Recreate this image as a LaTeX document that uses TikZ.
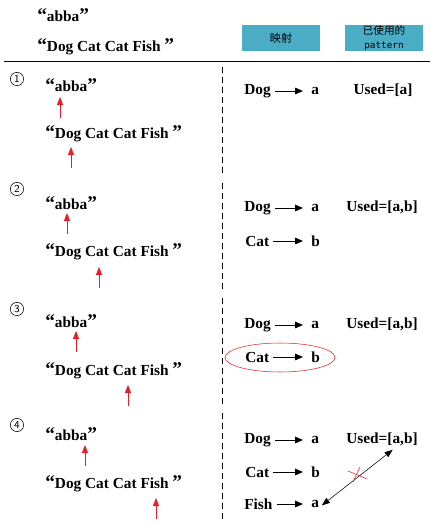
\documentclass[tikz,border=0pt]{standalone}
\usepackage{fontspec}
\setmainfont{Liberation Serif}
\newfontfamily\cjk{Noto Sans CJK SC}
\newfontfamily\codefont{DejaVu Sans Mono}
\usetikzlibrary{arrows.meta}
\definecolor{hdrblue}{RGB}{75,172,198}
\definecolor{markred}{RGB}{230,30,40}
\newcommand\quoted[1]{{\fontsize{14.5}{14}\selectfont“}#1{\fontsize{14.5}{14}\selectfont”}}

\begin{document}
\begin{tikzpicture}[x=0.75pt,y=-0.75pt,
	word/.style={font=\bfseries\fontsize{11.5}{13}\selectfont, inner sep=0pt, anchor=west},
	num/.style={circle, draw, thin, minimum size=10pt, inner sep=0pt, font=\sffamily\fontsize{8}{8}\selectfont},
	hdr/.style={fill=hdrblue, minimum width=58.5pt, minimum height=19.5pt, inner sep=0pt, align=center},
	ptr/.style={draw=markred, semithick, -{Triangle[width=4.5pt,length=6pt]}},
	map/.style={semithick, -{Triangle[width=5pt,length=6pt]}, shorten <=3pt, shorten >=6pt},
	sep/.style={dash pattern=on 4.5pt off 3pt}]
\useasboundingbox (0,0) rectangle (431,525);

%header
	\node[word] (hpat) at (37,15) {\quoted{abba}};
	\node[word] (hstr) at (37,47) {\quoted{Dog Cat Cat Fish }};
	\node[hdr] (hmap) at (281,38) {\cjk\fontsize{8.3}{10}\selectfont 映射};
	\node[hdr] (hused) at (384,38) {\cjk\fontsize{8}{9.5}\selectfont 已使用的\\[-1.5pt]\codefont\fontsize{7}{8}\selectfont pattern};
	\draw (4,61) -- (430,61);

	%separators
	\draw[sep] (222,67) -- (222,175);
	\draw[sep] (222,183) -- (222,290);
	\draw[sep] (222,298) -- (222,405);
	\draw[sep] (222,413) -- (222,522);

	%step 1
	\node[num] (n1) at (17,79) {1};
	\node[word] (p1) at (45,85) {\quoted{abba}};
	\node[word] (s1) at (45,134) {\quoted{Dog Cat Cat Fish }};
	\coordinate (t1p) at (60,118); \coordinate (t1s) at (71,168);
	\draw[ptr] (t1p) -- ++(0,-21);
	\draw[ptr] (t1s) -- ++(0,-21);
	\node[word] (d1) at (244,91) {Dog};
	\node[word] (a1) at (311,91) {a};
	\draw[map] (d1.east) -- (a1.west);
	\node[word, anchor=center] (u1) at (383,90) {Used=[a]};

	%step 2
	\node[num] (n2) at (17,189) {2};
	\node[word] (p2) at (45,203) {\quoted{abba}};
	\node[word] (s2) at (45,252) {\quoted{Dog Cat Cat Fish }};
	\coordinate (t2p) at (67,234); \coordinate (t2s) at (99,288);
	\draw[ptr] (t2p) -- ++(0,-21);
	\draw[ptr] (t2s) -- ++(0,-21);
	\node[word] (d2) at (244,208) {Dog};
	\node[word] (a2) at (311,208) {a};
	\draw[map] (d2.east) -- (a2.west);
	\node[word] (c2) at (245,241) {Cat};
	\node[word] (b2) at (311,241) {b};
	\draw[map] (c2.east) -- (b2.west);
	\node[word, anchor=center] (u2) at (382,207) {Used=[a,b]};

	%step 3
	\node[num] (n3) at (17,309) {3};
	\node[word] (p3) at (45,321) {\quoted{abba}};
	\node[word] (s3) at (45,371) {\quoted{Dog Cat Cat Fish }};
	\coordinate (t3p) at (76,352); \coordinate (t3s) at (128,406);
	\draw[ptr] (t3p) -- ++(0,-21);
	\draw[ptr] (t3s) -- ++(0,-21);
	\node[word] (d3) at (244,325) {Dog};
	\node[word] (a3) at (311,325) {a};
	\draw[map] (d3.east) -- (a3.west);
	\node[word] (c3) at (245,357) {Cat};
	\node[word] (b3) at (311,357) {b};
	\draw[map] (c3.east) -- (b3.west);
	\node[word, anchor=center] (u3) at (382,324) {Used=[a,b]};
	\draw[markred] (280,357.5) ellipse (55 and 14.5);

	%step 4
	\node[num] (n4) at (17,425) {4};
	\node[word] (p4) at (45,434) {\quoted{abba}};
	\node[word] (s4) at (45,484) {\quoted{Dog Cat Cat Fish }};
	\coordinate (t4p) at (85,466); \coordinate (t4s) at (156,519);
	\draw[ptr] (t4p) -- ++(0,-21);
	\draw[ptr] (t4s) -- ++(0,-21);
	\node[word] (d4) at (244,440) {Dog};
	\node[word] (a4) at (311,440) {a};
	\draw[map] (d4.east) -- (a4.west);
	\node[word] (c4) at (245,472) {Cat};
	\node[word] (b4) at (311,472) {b};
	\draw[map] (c4.east) -- (b4.west);
	\node[word] (f4) at (244,504) {Fish};
	\node[word] (e4) at (311,504) {a};
	\draw[map] (f4.east) -- (e4.west);
	\node[word, anchor=center] (u4) at (382,439) {Used=[a,b]};
	\coordinate (x4) at (357,476);
	\draw[{Triangle[width=4.5pt,length=6pt]}-{Triangle[width=4.5pt,length=6pt]}] ([xshift=2pt,yshift=-1pt]e4.east) -- ([xshift=8pt,yshift=-3pt]u4.south);
	\draw[markred] (x4) ++(-9,-5) -- ++(19,8);
	\draw[markred] (x4) ++(-4,6) -- ++(7,-15);
\end{tikzpicture}
\end{document}
